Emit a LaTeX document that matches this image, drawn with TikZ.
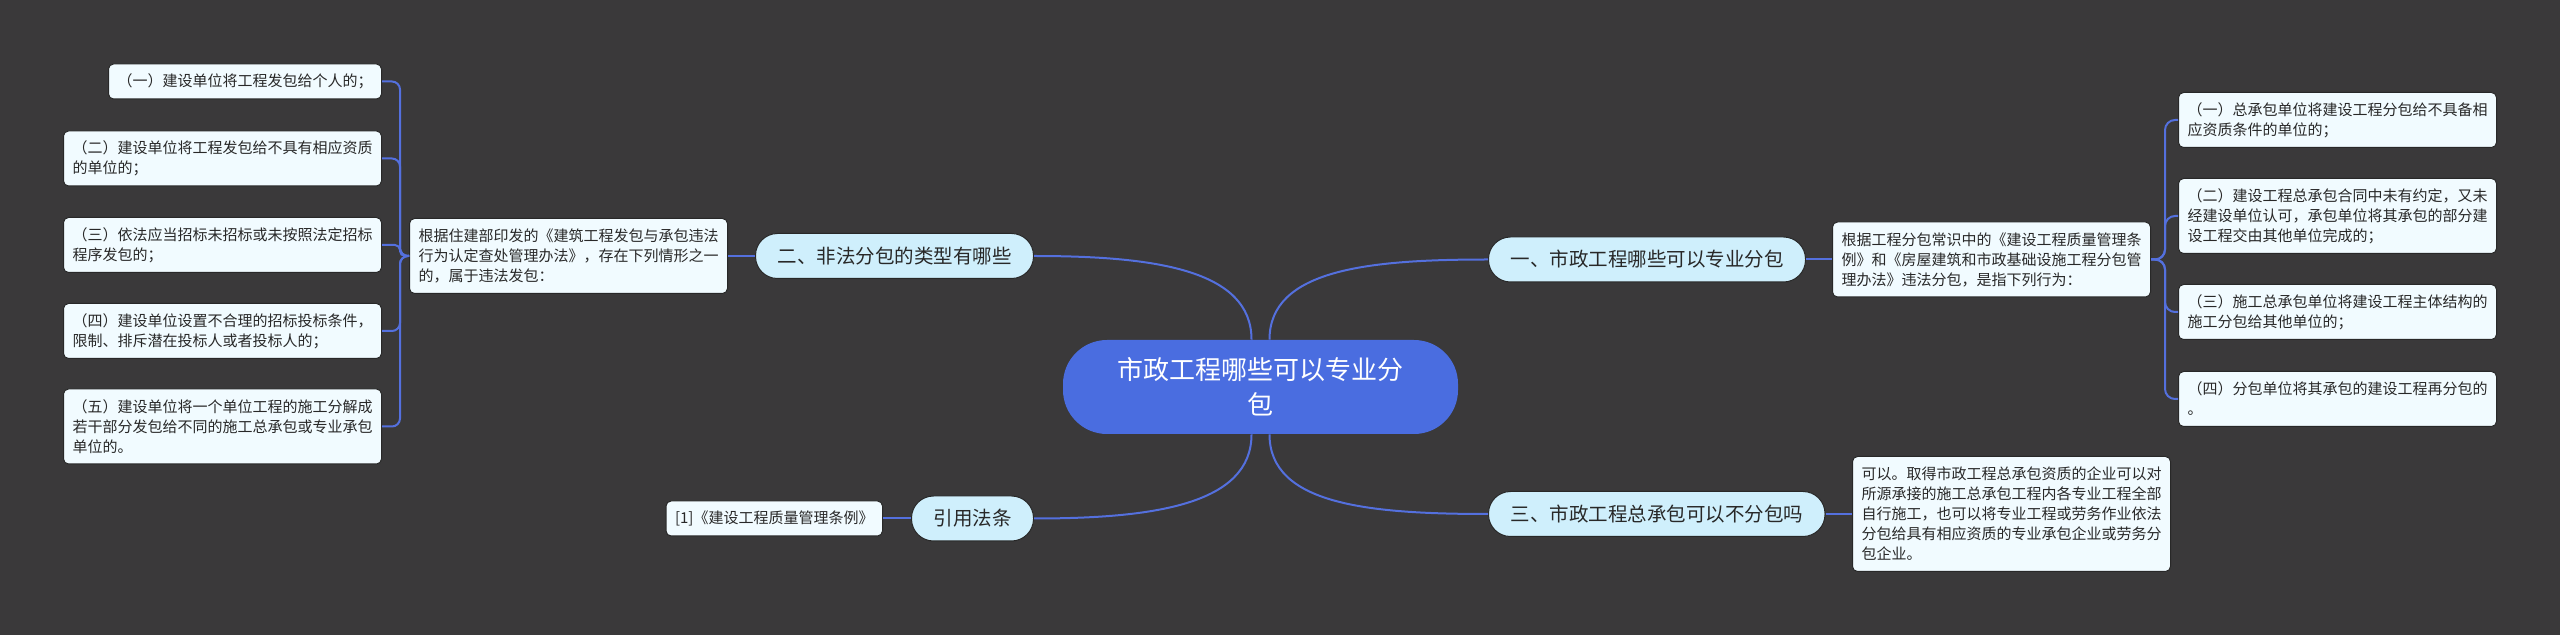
\documentclass[tikz,border=0pt]{standalone}
\usepackage{fontspec}
\setmainfont{Noto Sans CJK SC}
\definecolor{bg}{RGB}{58,57,58}
\definecolor{linec}{RGB}{84,112,222}
\definecolor{rootfill}{RGB}{74,109,224}
\definecolor{topicfill}{RGB}{207,239,252}
\definecolor{leaffill}{RGB}{241,251,255}
\definecolor{edge}{RGB}{40,40,40}
\definecolor{txt}{RGB}{40,40,40}
\begin{document}
\begin{tikzpicture}[x=0.5pt,y=-0.5pt,
  leaf/.style={draw=edge, line width=0.5pt, fill=leaffill, rounded corners=2.5pt, text=txt,
    font=\fontsize{7.5}{10}\selectfont, align=left, inner xsep=4.5pt, inner ysep=0pt},
  hone/.style={minimum height=17.5pt},
  htwo/.style={minimum height=27.5pt},
  hthree/.style={minimum height=37.5pt},
  hfive/.style={minimum height=57.5pt},
  topic/.style={draw=edge, line width=0.5pt, fill=topicfill, rounded corners=11pt, text=txt,
    font=\fontsize{9.75}{12}\selectfont, inner xsep=11pt, inner ysep=0pt, minimum height=22.5pt},
  root/.style={fill=rootfill, rounded corners=22pt, text=white,
    font=\fontsize{13}{17.5}\selectfont, align=center, minimum width=197.5pt, minimum height=47pt},
  conn/.style={draw=linec, line width=1pt}
]
\fill[bg] (0,0) rectangle (2560,635);
\useasboundingbox (0,0) rectangle (2560,635);

% root
\node[root] (R) at (1260.5,387) {市政工程哪些可以专业分\\包};

% topics
\node[topic, anchor=east] (N2) at (1034,256) {二、非法分包的类型有哪些};
\node[topic, anchor=east] (N4) at (1034,518.5) {引用法条};
\node[topic, anchor=west] (N1) at (1488,259.5) {一、市政工程哪些可以专业分包};
\node[topic, anchor=west] (N3) at (1488,514) {三、市政工程总承包可以不分包吗};

% middle boxes
\node[leaf, hthree, anchor=east] (LM) at (728,256) {根据住建部印发的《建筑工程发包与承包违法\\行为认定查处管理办法》，存在下列情形之一\\的，属于违法发包：};
\node[leaf, hthree, anchor=west] (RM) at (1832,259.5) {根据工程分包常识中的《建设工程质量管理条\\例》和《房屋建筑和市政基础设施工程分包管\\理办法》违法分包，是指下列行为：};
\node[leaf, hfive, anchor=west] (BR) at (1852,514) {可以。取得市政工程总承包资质的企业可以对\\所源承接的施工总承包工程内各专业工程全部\\自行施工，也可以将专业工程或劳务作业依法\\分包给具有相应资质的专业承包企业或劳务分\\包企业。};
\node[leaf, hone, anchor=east] (BL) at (883,518.5) {[1]《建设工程质量管理条例》};

% left leaves
\node[leaf, hone, anchor=east] (L1) at (382,81.5) {（一）建设单位将工程发包给个人的；};
\node[leaf, htwo, anchor=east] (L2) at (382,158.5) {（二）建设单位将工程发包给不具有相应资质\\的单位的；};
\node[leaf, htwo, anchor=east] (L3) at (382,245) {（三）依法应当招标未招标或未按照法定招标\\程序发包的；};
\node[leaf, htwo, anchor=east] (L4) at (382,331) {（四）建设单位设置不合理的招标投标条件，\\限制、排斥潜在投标人或者投标人的；};
\node[leaf, hthree, anchor=east] (L5) at (382,426.5) {（五）建设单位将一个单位工程的施工分解成\\若干部分发包给不同的施工总承包或专业承包\\单位的。};

% right leaves
\node[leaf, htwo, anchor=west] (Q1) at (2178,120) {（一）总承包单位将建设工程分包给不具备相\\应资质条件的单位的；};
\node[leaf, hthree, anchor=west] (Q2) at (2178,216) {（二）建设工程总承包合同中未有约定，又未\\经建设单位认可，承包单位将其承包的部分建\\设工程交由其他单位完成的；};
\node[leaf, htwo, anchor=west] (Q3) at (2178,312) {（三）施工总承包单位将建设工程主体结构的\\施工分包给其他单位的；};
\node[leaf, htwo, anchor=west] (Q4) at (2178,399) {（四）分包单位将其承包的建设工程再分包的\\。};

% root connectors
\draw[conn] ([xshift=-4.5pt]R.north) .. controls +(0,-70) and +(120,0) .. (N2.east);
\draw[conn] ([xshift=-4.5pt]R.south) .. controls +(0,70) and +(120,0) .. (N4.east);
\draw[conn] ([xshift=4.5pt]R.north) .. controls +(0,-70) and +(-120,0) .. (N1.west);
\draw[conn] ([xshift=4.5pt]R.south) .. controls +(0,70) and +(-120,0) .. (N3.west);

% topic to middle
\draw[conn] (N2.west) -- (LM.east);
\draw[conn] (N4.west) -- (BL.east);
\draw[conn] (N1.east) -- (RM.east -| RM.west);
\draw[conn] (N3.east) -- (BR.west);

% left bracket
\draw[conn, rounded corners=4pt] (LM.west) -- ++(-9,0) |- (L1.east);
\draw[conn, rounded corners=4pt] (LM.west) -- ++(-9,0) |- (L2.east);
\draw[conn, rounded corners=2.5pt] (LM.west) -- ++(-9,0) |- (L3.east);
\draw[conn, rounded corners=4pt] (LM.west) -- ++(-9,0) |- (L4.east);
\draw[conn, rounded corners=4pt] (LM.west) -- ++(-9,0) |- (L5.east);

% right bracket
\draw[conn, rounded corners=5pt] (RM.east) -- ++(14,0) |- (Q1.west);
\draw[conn, rounded corners=5pt] (RM.east) -- ++(14,0) |- (Q2.west);
\draw[conn, rounded corners=5pt] (RM.east) -- ++(14,0) |- (Q3.west);
\draw[conn, rounded corners=5pt] (RM.east) -- ++(14,0) |- (Q4.west);
\end{tikzpicture}
\end{document}
